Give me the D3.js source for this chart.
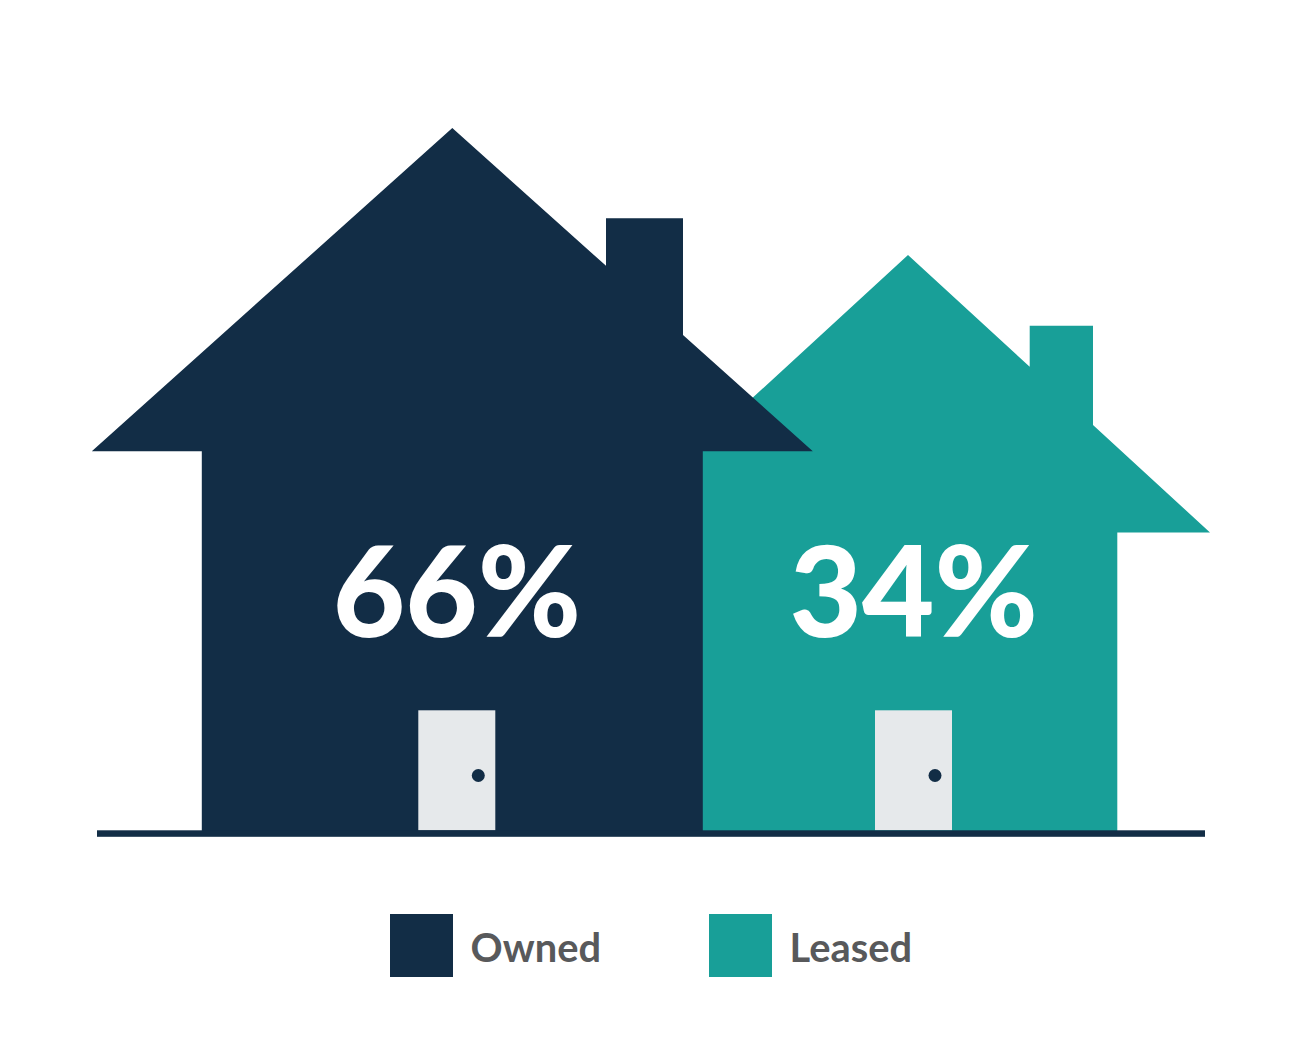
<!DOCTYPE html>
<html>
<head>
<meta charset="utf-8">
<script src="https://cdn.jsdelivr.net/npm/d3@7"></script>
<style>
  html, body { margin: 0; padding: 0; background: #fff; }
  svg { display: block; }
  text { font-family: Lato, sans-serif; }
</style>
</head>
<body>
<svg id="chart" width="1303" height="1063"></svg>
<script>
// Chart data
const categories = ["Owned", "Leased"];
const shares = [66, 34];
const fillColors = ["#122d46", "#189f98"];

const navy = "#122d46";
const doorColor = "#e6e9eb";
const legendText = "#58595b";

const groundY = 833;
const svg = d3.select("#chart");

// Every part of a house follows the share it stands for
const domain = [34, 66];
const centerX = d3.scaleLinear().domain(domain).range([908, 452.3]);
const apexY = d3.scaleLinear().domain(domain).range([255, 128]);
const eaveY = d3.scaleLinear().domain(domain).range([532.5, 451.3]);
const roofHalf = d3.scaleLinear().domain(domain).range([302, 360.5]);
const bodyHalf = d3.scaleLinear().domain(domain).range([209.3, 250.5]);
const chimneyLeft = d3.scaleLinear().domain(domain).range([121.7, 153.7]);
const chimneyRight = d3.scaleLinear().domain(domain).range([185, 230.7]);
const chimneyTop = d3.scaleLinear().domain(domain).range([325.7, 218.3]);
const doorX = d3.scaleLinear().domain(domain).range([875, 418.3]);

const legendX = d3.scaleBand().domain(categories).range([390, 1028]).paddingInner(0);

const line = d3.line();

function housePoints(v) {
    const cx = centerX(v), top = apexY(v), eave = eaveY(v);
    const half = roofHalf(v), body = bodyHalf(v);
    const slope = (eave - top) / half;
    const cl = chimneyLeft(v), cr = chimneyRight(v);
    return [
        [cx, top],
        [cx + cl, top + cl * slope],
        [cx + cl, chimneyTop(v)],
        [cx + cr, chimneyTop(v)],
        [cx + cr, top + cr * slope],
        [cx + half, eave],
        [cx + body, eave],
        [cx + body, groundY],
        [cx - body, groundY],
        [cx - body, eave],
        [cx - half, eave]
    ];
}

// Leased house first so the owned one sits on top of it
const order = d3.range(categories.length).reverse();

svg.selectAll("path.house")
    .data(order)
    .join("path")
    .attr("class", "house")
    .attr("d", i => line(housePoints(shares[i])) + "Z")
    .attr("fill", i => fillColors[i]);

svg.selectAll("rect.door")
    .data(order)
    .join("rect")
    .attr("class", "door")
    .attr("x", i => doorX(shares[i]))
    .attr("y", 710.3)
    .attr("width", 77)
    .attr("height", 120)
    .attr("fill", doorColor);

svg.selectAll("circle.knob")
    .data(order)
    .join("circle")
    .attr("class", "knob")
    .attr("cx", i => doorX(shares[i]) + 60)
    .attr("cy", 775.5)
    .attr("r", 6.5)
    .attr("fill", navy);

svg.selectAll("text.share")
    .data(order)
    .join("text")
    .attr("class", "share")
    .attr("x", i => doorX(shares[i]) + 38.7)
    .attr("y", 636.5)
    .attr("text-anchor", "middle")
    .attr("font-size", 125)
    .attr("font-weight", 900)
    .attr("fill", "#fff")
    .text(i => shares[i] + "%");

// Ground line
svg.append("rect")
    .attr("x", 97)
    .attr("y", 830.3)
    .attr("width", 1108)
    .attr("height", 6.5)
    .attr("fill", navy);

// Legend
const legend = svg.selectAll("g.legend")
    .data(categories)
    .join("g")
    .attr("class", "legend")
    .attr("transform", d => `translate(${legendX(d)},914)`);

legend.append("rect")
    .attr("width", 63)
    .attr("height", 63)
    .attr("fill", (d, i) => fillColors[i]);

legend.append("text")
    .attr("x", 80.6)
    .attr("y", 48)
    .attr("font-size", 39.8)
    .attr("font-weight", 700)
    .attr("fill", legendText)
    .text(d => d);
</script>
</body>
</html>
